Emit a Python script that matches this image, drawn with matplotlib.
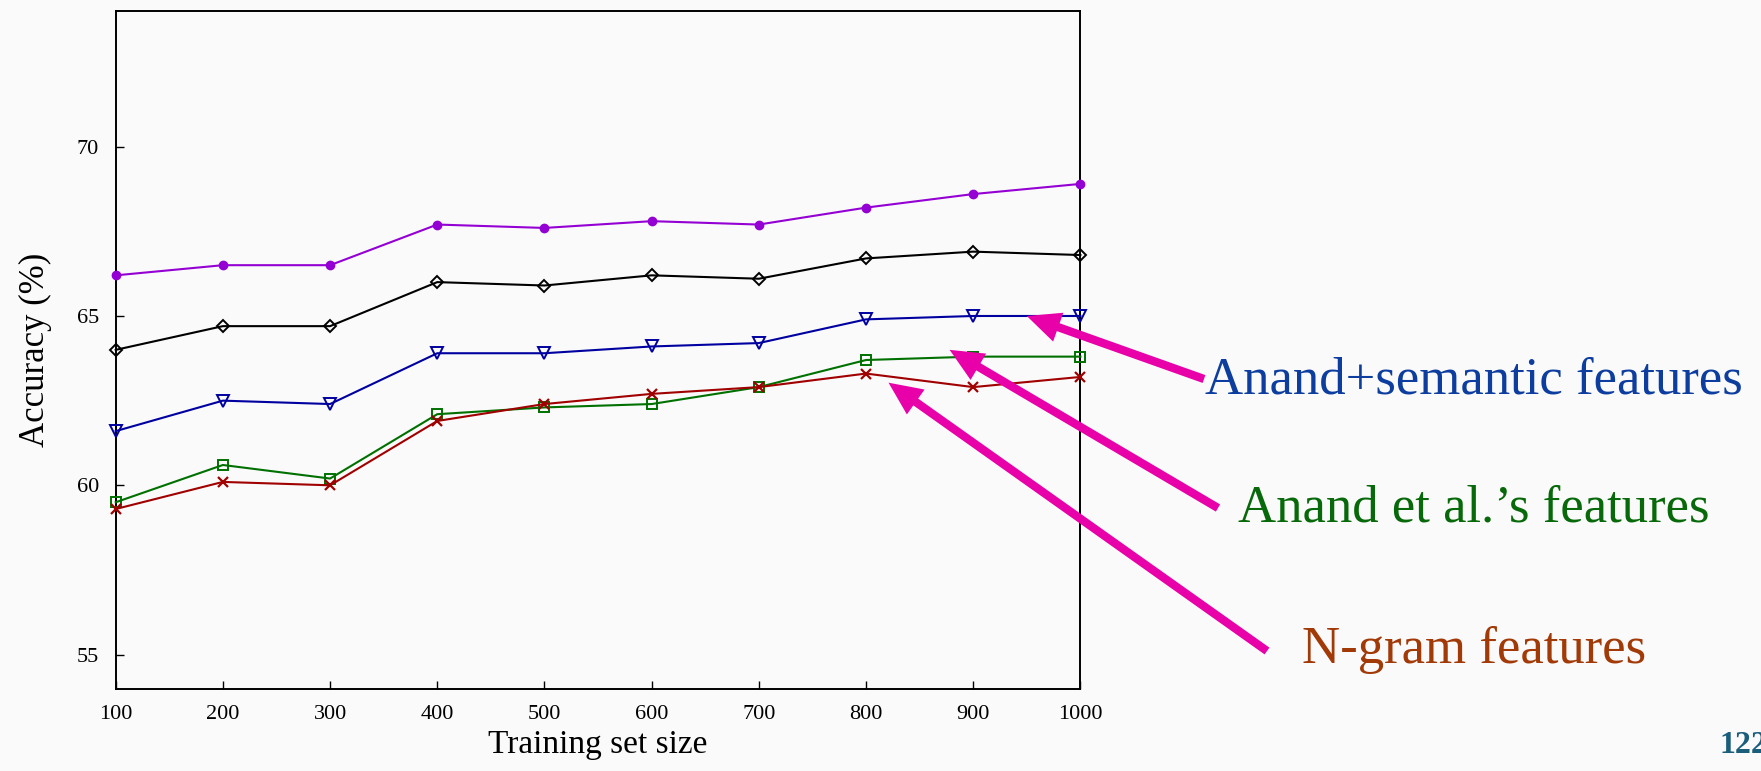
import matplotlib
matplotlib.use("Agg")
import matplotlib.pyplot as plt

plt.rcParams['font.family'] = ['Liberation Serif', 'DejaVu Serif']

# ---- data ----
train_sizes = [100, 200, 300, 400, 500, 600, 700, 800, 900, 1000]
acc_purple = [66.2, 66.5, 66.5, 67.7, 67.6, 67.8, 67.7, 68.2, 68.6, 68.9]
acc_black = [64.0, 64.7, 64.7, 66.0, 65.9, 66.2, 66.1, 66.7, 66.9, 66.8]
acc_anand_semantic = [61.6, 62.5, 62.4, 63.9, 63.9, 64.1, 64.2, 64.9, 65.0, 65.0]
acc_anand = [59.5, 60.6, 60.2, 62.1, 62.3, 62.4, 62.9, 63.7, 63.8, 63.8]
acc_ngram = [59.3, 60.1, 60.0, 61.9, 62.4, 62.7, 62.9, 63.3, 62.9, 63.2]
y_ticks = [55, 60, 65, 70]
x_ticks = [100, 200, 300, 400, 500, 600, 700, 800, 900, 1000]
labels = ["Anand+semantic features", "Anand et al.\u2019s features", "N-gram features"]
page_number = "122"

W, H = 1761, 771
fig = plt.figure(figsize=(W / 100, H / 100), dpi=100, facecolor='#FAFAFA')
ax = fig.add_axes([115.7 / W, 1 - 688.5 / H, (1080.4 - 115.7) / W, (688.5 - 11.2) / H])
ax.set_facecolor('#FAFAFA')

lw = 1.5
ax.plot(train_sizes, acc_purple, color='#9400D3', lw=lw, marker='o', ms=6,
        mfc='#9400D3', mec='#9400D3', clip_on=False, zorder=3)
ax.plot(train_sizes, acc_black, color='black', lw=lw, marker='D', ms=6,
        mfc='none', mec='black', mew=1.4, clip_on=False, zorder=3)
ax.plot(train_sizes, acc_anand_semantic, color='#0000A0', lw=lw, marker='v', ms=8,
        mfc='none', mec='#0000A0', mew=1.4, clip_on=False, zorder=3)
ax.plot(train_sizes, acc_anand, color='#007000', lw=lw, marker='s', ms=6.5,
        mfc='none', mec='#007000', mew=1.4, clip_on=False, zorder=3)
ax.plot(train_sizes, acc_ngram, color='#A00000', lw=lw, marker='x', ms=7.5,
        mec='#A00000', mew=1.6, clip_on=False, zorder=3)

ax.set_xlim(100, 1000)
ax.set_ylim(54, 74)
ax.set_xticks(x_ticks)
ax.set_yticks(y_ticks)
ax.tick_params(direction='in', length=6, width=1.0, labelsize=16, pad=12,
               top=False, right=False)
ax.tick_params(axis='y', pad=12)
for s in ax.spines.values():
    s.set_linewidth(1.4)

ax.set_xlabel("Training set size", fontsize=24, labelpad=4)
ax.set_ylabel("Accuracy (%)", fontsize=25, labelpad=18)

# ---- annotations with magenta arrows ----
arrow_color = '#E800A8'
text_specs = [
    (labels[0], '#0D3D9E', 1205, 393, (950, 65.0), (1204, 379)),
    (labels[1], '#08690A', 1238, 522, (878, 64.0), (1218, 508)),
    (labels[2], '#A23A08', 1302, 663, (821, 63.03), (1267, 651)),
]
for txt, col, tx, ty, head, tail in text_specs:
    fig.text(tx, H - ty, txt, transform=None, fontsize=38, color=col,
             ha='left', va='baseline')
    ax.annotate('', xy=head, xycoords='data',
                xytext=(tail[0], H - tail[1]), textcoords='figure pixels',
                arrowprops=dict(arrowstyle='simple,head_length=0.6,head_width=0.55,tail_width=0.15',
                                color=arrow_color, lw=0, shrinkA=0, shrinkB=0,
                                mutation_scale=40),
                annotation_clip=False)

fig.text(1720, H - 753, page_number, transform=None, fontsize=23,
         fontweight='bold', color='#1B5E7B', ha='left', va='baseline')

fig.savefig('out.png', dpi=100, facecolor=fig.get_facecolor())
